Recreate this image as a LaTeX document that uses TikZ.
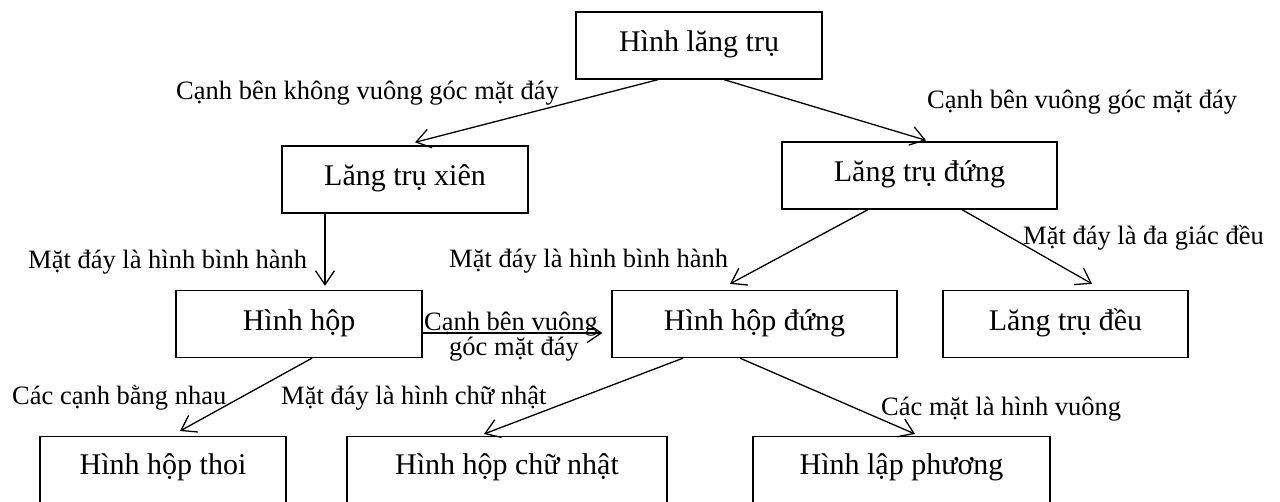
\documentclass[tikz,border=0pt]{standalone}
\usepackage{fontspec}
\setmainfont{Liberation Serif}
\usetikzlibrary{arrows.meta}

\tikzset{
  box/.style={draw, line width=1.3pt, inner sep=0pt, minimum height=67pt,
    text height=19pt, text depth=6pt, font=\fontsize{30}{36}\selectfont},
  lowbox/.style={box, anchor=north, minimum height=80pt, text depth=23pt},
  lbl/.style={inner sep=0pt, anchor=base west, font=\fontsize{26.5}{30}\selectfont},
  link/.style={line width=1.3pt, -{Straight Barb[length=14pt,width=19pt,line width=1.3pt]}},
}

\begin{document}
\begin{tikzpicture}[x=1pt, y=-1pt]
  \clip (0,0) rectangle (1280,502);
  \fill[white] (0,0) rectangle (1280,502);

  % boxes
  \node[box, minimum width=246pt] (b1) at (699,45.5) {Hình lăng trụ};
  \node[box, minimum width=246pt] (b2) at (405,179.5) {Lăng trụ xiên};
  \node[box, minimum width=275pt] (b3) at (919.5,175.5) {Lăng trụ đứng};
  \node[box, minimum width=246pt] (b4) at (299,324) {Hình hộp};
  \node[box, minimum width=285pt] (b5) at (754.5,324) {Hình hộp đứng};
  \node[box, minimum width=245pt] (b6) at (1065.5,324) {Lăng trụ đều};
  \node[lowbox, minimum width=246pt] (b7) at (163,436) {Hình hộp thoi};
  \node[lowbox, minimum width=320pt] (b8) at (507,436) {Hình hộp chữ nhật};
  \node[lowbox, minimum width=297pt] (b9) at (901.5,436) {Hình lập phương};

  % connectors
  \draw[link] ([xshift=-41pt]b1.south) -- ([xshift=10pt,yshift=3pt]b2.north);
  \draw[link] ([xshift=25pt]b1.south) -- ([xshift=6.5pt,yshift=1pt]b3.north);
  \draw[link] ([xshift=-80pt]b2.south) -- ([xshift=26pt,yshift=4pt]b4.north);
  \draw[link] ([xshift=-51.5pt]b3.south) -- ([xshift=-24.5pt,yshift=6pt]b5.north);
  \draw[link] ([xshift=42.5pt]b3.south) -- ([xshift=26.5pt,yshift=6pt]b6.north);
  \draw[link] ([yshift=-9pt]b4.east) -- ([xshift=-9pt,yshift=-9pt]b5.west);
  \draw[link] ([xshift=13pt]b4.south) -- ([xshift=17pt,yshift=5pt]b7.north);
  \draw[link] ([xshift=-71.5pt]b5.south) -- ([xshift=-23pt,yshift=2pt]b8.north);
  \draw[link] ([xshift=-14.5pt]b5.south) -- ([xshift=13.5pt,yshift=2pt]b9.north);

  % labels
  \node[lbl] (l1) at (176,100) {Cạnh bên không vuông góc mặt đáy};
  \node[lbl] (l2) at (927,109) {Cạnh bên vuông góc mặt đáy};
  \node[lbl] (l3) at (28,269) {Mặt đáy là hình bình hành};
  \node[lbl] (l4) at (449,268) {Mặt đáy là hình bình hành};
  \node[lbl] (l5) at (1023,245) {Mặt đáy là đa giác đều};
  \node[lbl, anchor=base] (l6a) at (511,331) {Cạnh bên vuông};
  \node[lbl, anchor=base] (l6b) at (514,356) {góc mặt đáy};
  \node[lbl] (l7) at (12,405) {Các cạnh bằng nhau};
  \node[lbl] (l8) at (281,405) {Mặt đáy là hình chữ nhật};
  \node[lbl] (l9) at (881,416) {Các mặt là hình vuông};
\end{tikzpicture}
\end{document}
